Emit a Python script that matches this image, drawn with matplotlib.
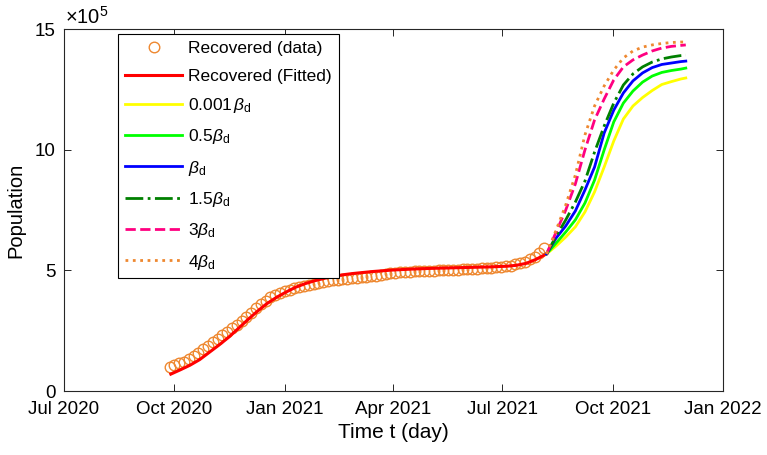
import numpy as np
import pandas as pd
import matplotlib
matplotlib.use('Agg')
import matplotlib.pyplot as plt
import matplotlib.dates as mdates
from matplotlib.ticker import FixedLocator, FuncFormatter

# ---------------- data (population values in units of 1e5) ----------------
base_date = '2020-07-01'
scale = 1e5

# observed recovered, one point every 4 days starting 2020-09-27
data_start = '2020-09-27'
data_step_days = 4
recovered_data = [
    0.99, 1.06, 1.14, 1.22, 1.33, 1.45, 1.59, 1.73, 1.87, 2.01,
    2.15, 2.30, 2.44, 2.59, 2.74, 2.90, 3.07, 3.25, 3.43, 3.60,
    3.75, 3.88, 3.97, 4.06, 4.13, 4.19, 4.25, 4.29, 4.34, 4.39,
    4.43, 4.47, 4.51, 4.55, 4.58, 4.61, 4.64, 4.66, 4.68, 4.70,
    4.72, 4.74, 4.76, 4.78, 4.81, 4.84, 4.87, 4.90, 4.92, 4.93,
    4.95, 4.96, 4.97, 4.98, 4.99, 4.99, 5.00, 5.01, 5.02, 5.02,
    5.03, 5.04, 5.04, 5.05, 5.07, 5.08, 5.09, 5.11, 5.12, 5.15,
    5.17, 5.20, 5.25, 5.30, 5.36, 5.45, 5.55, 5.70, 5.93,
]

# fitted recovered curve (days after base_date)
fit_days = [89, 97, 105, 113, 121, 129, 137, 145, 153, 161, 169, 177, 185,
            193, 201, 209, 217, 225, 233, 241, 257, 273, 289, 305, 321, 337,
            353, 369, 377, 385, 393, 398, 402]
fit_values = [0.70, 0.88, 1.07, 1.30, 1.60, 1.90, 2.22, 2.58, 2.95, 3.30,
              3.62, 3.88, 4.10, 4.30, 4.45, 4.57, 4.67, 4.75, 4.82, 4.87,
              4.95, 5.01, 5.05, 5.08, 5.10, 5.12, 5.14, 5.17, 5.21, 5.29,
              5.45, 5.58, 5.68]

# scenario projections (days after base_date)
scen_days = [402, 410, 418, 426, 434, 442, 450, 458, 466, 474, 482, 490,
             498, 506, 514, 518]
beta_0001 = [5.68, 6.01, 6.38, 6.80, 7.42, 8.25, 9.28, 10.36, 11.27, 11.81,
             12.16, 12.45, 12.70, 12.82, 12.93, 12.97]
beta_05 = [5.68, 6.13, 6.59, 7.09, 7.79, 8.74, 9.99, 11.15, 11.93, 12.43,
           12.80, 13.05, 13.20, 13.28, 13.34, 13.38]
beta_1 = [5.68, 6.34, 6.84, 7.46, 8.33, 9.28, 10.69, 11.64, 12.35, 12.85,
          13.18, 13.40, 13.53, 13.59, 13.65, 13.67]
beta_15 = [5.68, 6.42, 7.09, 7.83, 8.70, 9.90, 10.98, 11.93, 12.68, 13.14,
           13.43, 13.63, 13.76, 13.84, 13.90, 13.92]
beta_3 = [5.68, 6.59, 7.50, 8.58, 9.99, 11.23, 12.10, 12.89, 13.43, 13.72,
          13.92, 14.09, 14.21, 14.28, 14.32, 14.34]
beta_4 = [5.68, 6.67, 7.71, 8.95, 10.61, 11.81, 12.64, 13.30, 13.80, 14.09,
          14.25, 14.34, 14.40, 14.44, 14.46, 14.46]

x_ticks = ['2020-07-01', '2020-10-01', '2021-01-01', '2021-04-01',
           '2021-07-01', '2021-10-01', '2022-01-01']
y_ticks = [0, 5, 10, 15]

labels = ['Recovered (data)', 'Recovered (Fitted)',
          r'0.001$\,\beta_{\mathrm{d}}$', r'0.5$\beta_{\mathrm{d}}$',
          r'$\beta_{\mathrm{d}}$', r'1.5$\beta_{\mathrm{d}}$',
          r'3$\beta_{\mathrm{d}}$', r'4$\beta_{\mathrm{d}}$']

# ---------------- style ----------------
plt.rcParams['font.family'] = ['Liberation Sans', 'DejaVu Sans']
plt.rcParams['mathtext.fontset'] = 'custom'
plt.rcParams['mathtext.rm'] = 'Liberation Sans'
plt.rcParams['mathtext.it'] = 'Liberation Sans:italic'
plt.rcParams['mathtext.bf'] = 'Liberation Sans:bold'

W, H = 767, 455
fig = plt.figure(figsize=(W / 100, H / 100), dpi=100)
ax = fig.add_axes([64 / W, (H - 391) / H, 659 / W, 362 / H])

base = pd.Timestamp(base_date)
data_dates = pd.date_range(data_start, periods=len(recovered_data),
                           freq=f'{data_step_days}D')
fit_dates = base + pd.to_timedelta(fit_days, unit='D')
scen_dates = base + pd.to_timedelta(scen_days, unit='D')

orange = '#EE8830'
ax.plot(data_dates, np.array(recovered_data) * scale, 'o', ms=7.6,
        mfc='none', mec=orange, mew=1.0, label=labels[0], zorder=3)
ax.plot(fit_dates, np.array(fit_values) * scale, '-', color='#FF0000',
        lw=2.2, label=labels[1], zorder=4)
styles = [
    (beta_0001, '#FFFF00', '-', labels[2]),
    (beta_05, '#00FF00', '-', labels[3]),
    (beta_1, '#0000FF', '-', labels[4]),
    (beta_15, '#008000', '-.', labels[5]),
    (beta_3, '#FF0080', '--', labels[6]),
    (beta_4, orange, ':', labels[7]),
]
for vals, col, ls, lab in styles:
    ax.plot(scen_dates, np.array(vals) * scale, linestyle=ls, color=col,
            lw=2.0, label=lab, zorder=4)

ax.set_xlim(pd.Timestamp(x_ticks[0]), pd.Timestamp(x_ticks[-1]))
ax.set_ylim(y_ticks[0] * scale, y_ticks[-1] * scale)
ax.xaxis.set_major_locator(FixedLocator(mdates.date2num(pd.to_datetime(x_ticks))))
ax.xaxis.set_major_formatter(mdates.DateFormatter('%b %Y'))
ax.yaxis.set_major_locator(FixedLocator([v * scale for v in y_ticks]))
ax.yaxis.set_major_formatter(FuncFormatter(lambda v, p: f'{v / scale:g}'))

axc = '#262626'
for s in ax.spines.values():
    s.set_color(axc)
    s.set_linewidth(0.8)
ax.tick_params(direction='in', length=5, width=0.7, color=axc,
               labelsize=13.5, labelcolor='black', top=True, right=True)
ax.tick_params(axis='x', pad=7)
ax.tick_params(axis='y', pad=6)

ax.set_xlabel('Time t (day)', fontsize=15, labelpad=4)
ax.set_ylabel('Population', fontsize=14.5, labelpad=7)

fig.text(65 / W, 1 - 24 / H, r'$\times10^5$', fontsize=14.5, ha='left',
         va='baseline')

leg = ax.legend(loc='upper left', bbox_to_anchor=(118 / W, 1 - 34 / H),
                bbox_transform=fig.transFigure, fontsize=12.5,
                frameon=True, fancybox=False, edgecolor='black',
                framealpha=1, borderaxespad=0, borderpad=0.4,
                handlelength=3.3, handletextpad=0.35, labelspacing=0.71,
                markerscale=1.0)
leg.get_frame().set_linewidth(0.8)
leg.set_zorder(10)

fig.savefig('out.png', dpi=100)
